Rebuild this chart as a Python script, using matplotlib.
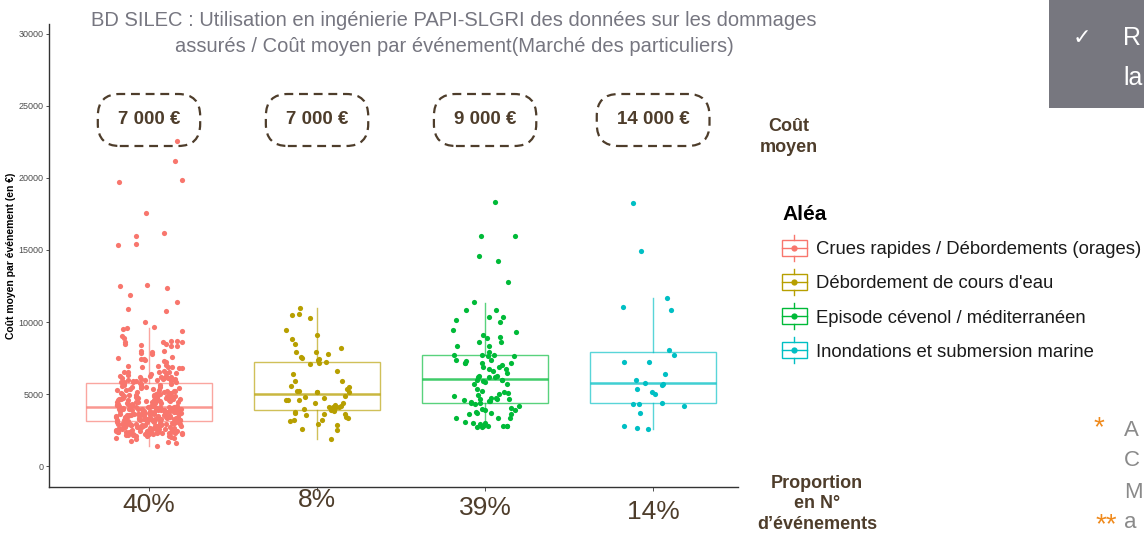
import numpy as np
import matplotlib
matplotlib.use("Agg")
import matplotlib.pyplot as plt
from matplotlib.lines import Line2D
from matplotlib.patches import FancyBboxPatch, Rectangle
from matplotlib.legend_handler import HandlerBase
from matplotlib.transforms import IdentityTransform

plt.rcParams["font.family"] = ["Liberation Sans", "DejaVu Sans"]

W, H = 1144, 537

categories = ["Crues rapides / Débordements (orages)", "Débordement de cours d'eau",
              "Episode cévenol / méditerranéen", "Inondations et submersion marine"]
colors = ["#F8766D", "#B79F00", "#00BA38", "#00BFC4"]
cost_labels = ["7 000 €", "7 000 €", "9 000 €", "14 000 €"]
proportions = ["40%", "8%", "39%", "14%"]

# box statistics (€)
q1 = [3150, 3890, 4350, 4350]
medians = [4120, 5000, 6040, 5760]
q3 = [5740, 7240, 7690, 7940]
whislo = [1400, 1850, 2710, 2570]
whishi = [9580, 10970, 11340, 11690]

# cost per event (€), one value per jittered point
crues = [
    1390, 1570, 1690, 1730, 1850, 1920, 1970,
    2020, 2050, 2080, 2110, 2140, 2160, 2190, 2210, 2230, 2240, 2270, 2290,
    2310, 2330, 2340, 2360, 2370, 2390, 2400, 2420, 2430, 2440, 2460, 2470,
    2480, 2490, 2150, 2260, 2350, 2410, 2450, 2380, 2120, 2220, 2300,
    2510, 2530, 2540, 2560, 2570, 2590, 2610, 2620, 2640, 2650, 2670, 2680,
    2700, 2710, 2730, 2740, 2760, 2770, 2790, 2800, 2820, 2830, 2850, 2860,
    2880, 2890, 2910, 2920, 2940, 2950, 2970, 2980, 3000, 3010, 3030, 3040,
    3060, 3070, 3090, 3100, 3120, 3130, 3140, 2550, 2660, 2720, 2810, 2870,
    2930, 2990, 3050, 2600, 2750, 2900, 3080,
    3160, 3170, 3190, 3200, 3210, 3230, 3240, 3250, 3270, 3280, 3290, 3310,
    3320, 3330, 3350, 3360, 3370, 3390, 3400, 3410, 3430, 3440, 3450, 3470,
    3480, 3490, 3510, 3520, 3530, 3550, 3560, 3570, 3590, 3600, 3610, 3630,
    3640, 3650, 3670, 3680, 3690, 3710, 3720, 3730, 3750, 3760, 3770, 3790,
    3800, 3810, 3830, 3840, 3850, 3870, 3880, 3890, 3910, 3920, 3930, 3950,
    3960, 3970, 3990, 4000, 4010, 4030, 4040, 4050, 4070, 4080, 4090, 4110,
    3180, 3260, 3340, 3420, 3500, 3580, 3660, 3740, 3820, 3900, 3980, 4060, 4100,
    4130, 4150, 4170, 4190, 4210, 4230, 4250, 4270, 4290, 4310, 4330, 4350,
    4370, 4390, 4410, 4430, 4450, 4470, 4490, 4510, 4530, 4550, 4570, 4590,
    4610, 4630, 4650, 4670, 4690, 4710, 4730, 4750, 4770, 4790, 4810, 4830,
    4850, 4870, 4890, 4910, 4930, 4950, 4970, 4990, 5010, 5040, 5070, 5100,
    5130, 5160, 5190, 5220, 5250, 5280, 5310, 5340, 5370, 5400, 5430, 5460,
    5490, 5520, 5550, 5580, 5610, 5640, 5670, 5700, 5730,
    4140, 4240, 4340, 4440, 4540, 4640, 4740, 4840, 4940, 5060, 5200,
    5760, 5780, 5800, 5830, 5850, 5870, 5900, 5920, 5940, 5970, 5990, 6010,
    6040, 6060, 6080, 6110, 6130, 6150, 6180, 6200, 6220, 6250, 6270, 6290, 5810,
    6420, 6450, 6480, 6500, 6520, 6540, 6560, 6610,
    6780, 6820, 6850, 6870, 6890, 6920, 6950, 6990,
    7240, 7300, 7350, 7410, 7460, 7520, 7580,
    7800, 7850, 7900, 7960, 8020,
    8300, 8360, 8400, 8450, 8500,
    8590, 8620, 8640, 8660, 8700,
    8910, 9050, 9400, 9510, 9580, 9680, 9980, 10760, 10900, 11370, 11900,
    12340, 12500, 12550, 15350, 15390, 15990, 16180, 17570, 19700, 19840,
    21200, 22545,
]
debordement = [
    10970, 10280, 10555, 10460, 9420, 9100, 8840, 8450, 8190, 7900, 7900,
    7760, 7590, 7450, 7500, 7360, 7240, 7130, 7060, 6570, 5920, 5880, 6390,
    5580, 5490, 5350, 5180, 5150, 5200, 5140, 5160, 4860, 4600, 4790, 4740,
    4600, 4600, 4350, 4350, 4240, 4120, 4000, 3890, 4170, 4080, 4100, 3960,
    3660, 3840, 3730, 3610, 3590, 3560, 3430, 3200, 2920, 3150, 3310, 3220,
    2830, 2590, 2480, 1850,
]
cevenol = [
    18310, 15950, 15990, 14560, 14260, 12780, 11370, 10860, 10810, 10350,
    10350, 10120, 9980, 9420, 9330, 9070, 8630, 8940, 8890, 8590, 8360, 8360,
    7940, 7640, 7740, 7700, 7680, 7640, 7360, 7360, 7310, 7150, 7150, 7150,
    7150, 6980, 6900, 6760, 6740, 6850, 6570, 6480, 6270, 6200, 6270, 6200,
    6200, 6000, 5970, 5900, 5970, 5830, 5720, 5720, 5370, 5050, 5140, 5200,
    4990, 4860, 4930, 4670, 4510, 4510, 4720, 4650, 4700, 4680, 4600, 4440,
    4350, 4350, 4150, 4300, 3980, 3780, 3660, 3870, 4030, 3650, 3640, 3610,
    3870, 3350, 3350, 3350, 3010, 2990, 3050, 2940, 2780, 2780, 2810, 2790,
    2710, 2730, 2750,
]
submersion = [
    18260, 14910, 11690, 10860, 11020, 8030, 7690, 7200, 7240, 6370, 5970,
    5720, 5790, 5620, 5320, 5140, 5020, 4400, 4330, 4190, 4280, 3700, 2660,
    2780, 2570,
]
series = [crues, debordement, cevenol, submersion]

BROWN = "#4e3d2b"
TITLE_GREY = "#767680"

fig = plt.figure(figsize=(W / 100, H / 100), dpi=100)
ax = fig.add_axes((49 / W, 1 - 487 / H, 689 / W, 463 / H))

positions = np.arange(1, len(categories) + 1)

# boxes (no fliers, points drawn separately)
stats = [dict(q1=a, med=m, q3=b, whislo=lo, whishi=hi, fliers=[])
         for a, m, b, lo, hi in zip(q1, medians, q3, whislo, whishi)]
bp = ax.bxp(stats, positions=positions, widths=0.75, showcaps=False,
            showfliers=False, patch_artist=True, manage_ticks=False)
for i, c in enumerate(colors):
    bp["boxes"][i].set(facecolor="none", edgecolor=c, linewidth=1.0, alpha=0.65)
    bp["medians"][i].set(color=c, linewidth=1.8, alpha=0.75)
    for w in bp["whiskers"][2 * i:2 * i + 2]:
        w.set(color=c, linewidth=1.0, alpha=0.65)

# jittered points, horizontal jitter like geom_jitter(width = 0.2)
rng = np.random.default_rng(7)
for pos, vals, c in zip(positions, series, colors):
    v = np.asarray(vals)
    xj = pos + rng.uniform(-0.2, 0.2, len(v))
    ax.scatter(xj, v, s=14, color=c, linewidths=0, zorder=3)

ax.set_xlim(0.405, 4.505)
ax.set_ylim(-1458, 30694)
ax.set_yticks([0, 5000, 10000, 15000, 20000, 25000, 30000])
ax.set_xticks(positions)
ax.set_xticklabels([])
ax.tick_params(axis="y", labelsize=6.5, colors="#333333", length=2.5, width=0.6,
               labelcolor="#4d4d4d", pad=1.5)
ax.tick_params(axis="x", length=3, width=0.6, colors="#333333")
for s in ["top", "right"]:
    ax.spines[s].set_visible(False)
for s in ["left", "bottom"]:
    ax.spines[s].set_color("#333333")
    ax.spines[s].set_linewidth(1.0)
ax.set_ylabel("Coût moyen par événement (en €)", fontsize=7.5, fontweight="bold",
              color="black")
ax.yaxis.set_label_coords(-33 / 689, 0.5)

# title
fig.text(454 / W, 1 - 20 / H,
         "BD SILEC : Utilisation en ingénierie PAPI-SLGRI des données sur les dommages",
         ha="center", va="center", fontsize=14.5, color=TITLE_GREY)
fig.text(454 / W, 1 - 46 / H,
         "assurés / Coût moyen par événement(Marché des particuliers)",
         ha="center", va="center", fontsize=14.5, color=TITLE_GREY)

# dashed cost boxes and proportion labels
fig.canvas.draw()
renderer = fig.canvas.get_renderer()
pct_y = [505, 500, 508, 512]
for pos, lab, pct, py in zip(positions, cost_labels, proportions, pct_y):
    cx = ax.transData.transform((pos, 0))[0]
    cy = H - 120
    t = fig.text(cx / W, cy / H, lab, ha="center", va="center", fontsize=13.5,
                 fontweight="bold", color=BROWN)
    tw = t.get_window_extent(renderer).width
    bw, bh = tw + 40, 52
    box = FancyBboxPatch((cx - bw / 2, cy - bh / 2), bw, bh,
                         boxstyle="round,pad=0,rounding_size=22",
                         transform=IdentityTransform(), fill=False,
                         edgecolor=BROWN, linewidth=1.6, linestyle=(0, (4, 2.6)))
    fig.add_artist(box)
    fig.text(cx / W, 1 - py / H, pct, ha="center", va="center", fontsize=19,
             color=BROWN)

fig.text(789 / W, 1 - 137 / H, "Coût\nmoyen", ha="center", va="center",
         fontsize=13, fontweight="bold", color=BROWN, linespacing=1.3)
fig.text(817 / W, 1 - 504 / H, "Proportion\nen N°\nd’événements", ha="center",
         va="center", fontsize=13, fontweight="bold", color=BROWN, linespacing=1.25)


# legend with boxplot glyphs
class BoxGlyph(HandlerBase):
    def create_artists(self, legend, orig_handle, xdescent, ydescent, width,
                       height, fontsize, trans):
        c = orig_handle.get_color()
        x0, y0 = -xdescent, -ydescent
        cx, cy = x0 + width / 2, y0 + height / 2
        hb, hw = 5.8, 9.5
        arts = [
            Rectangle((x0, cy - hb), width, 2 * hb, facecolor="white",
                      edgecolor=c, linewidth=1.0, transform=trans),
            Line2D([x0, x0 + width], [cy, cy], color=c, linewidth=1.0, transform=trans),
            Line2D([cx, cx], [cy + hb, cy + hw], color=c, linewidth=1.0, transform=trans),
            Line2D([cx, cx], [cy - hb, cy - hw], color=c, linewidth=1.0, transform=trans),
            Line2D([cx], [cy], marker="o", markersize=4.5, color=c,
                   markeredgewidth=0, transform=trans),
        ]
        return arts


handles = [Line2D([], [], color=c) for c in colors]
leg = fig.legend(handles, categories, handler_map={Line2D: BoxGlyph()},
                 loc="upper left", bbox_to_anchor=(782 / W, 1 - 205 / H),
                 frameon=False, fontsize=13.3, title="Aléa",
                 title_fontproperties={"weight": "bold", "size": 15},
                 alignment="left", handlelength=1.35, handleheight=0.7,
                 handletextpad=0.5, labelspacing=0.93, borderpad=0,
                 borderaxespad=0)
for t in leg.get_texts():
    t.set_color("#1a1a1a")

# slide decorations at the right edge
fig.add_artist(Rectangle((1049 / W, 1 - 108 / H), 95 / W, 108 / H,
                         transform=fig.transFigure, facecolor="#77777f",
                         edgecolor="none"))
fig.text(1082 / W, 1 - 38 / H, "✓", ha="center", va="center", fontsize=16,
         color="white", family="DejaVu Sans")
fig.text(1123 / W, 1 - 38 / H, "R", ha="left", va="center", fontsize=18,
         color="white")
fig.text(1123 / W, 1 - 78 / H, "la", ha="left", va="center", fontsize=18,
         color="white")
fig.text(1099 / W, 1 - 428 / H, "*", ha="center", va="center", fontsize=20,
         color="#f08a1c")
fig.text(1106 / W, 1 - 525 / H, "**", ha="center", va="center", fontsize=20,
         color="#f08a1c")
for yy, ch in zip([430, 460, 492, 522], ["A", "C", "M", "a"]):
    fig.text(1124 / W, 1 - yy / H, ch, ha="left", va="center", fontsize=16,
             color="#8a8a8a")

fig.savefig("out.png", dpi=100)
